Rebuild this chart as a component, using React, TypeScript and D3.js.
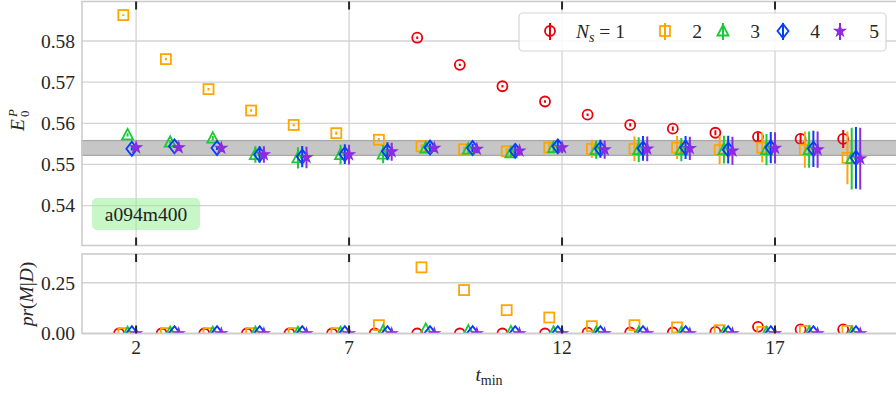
import React from "react";
import * as d3 from "d3";

// ---- data ----
const tmin = [2, 3, 4, 5, 6, 7, 8, 9, 10, 11, 12, 13, 14, 15, 16, 17, 18, 19];
const xTicks = [2, 7, 12, 17];
const yTicksTop = [0.54, 0.55, 0.56, 0.57, 0.58];
const yTicksBot = [0.0, 0.25];
const nsLabels = ["1", "2", "3", "4", "5"];

const e1 = [null, null, null, null, null, null, 0.5909, 0.5808, 0.5742, 0.569, 0.5653, 0.5621, 0.5596, 0.5587, 0.5577, 0.5567, 0.5562, 0.5562];
const e1err = [0, 0, 0, 0, 0, 0, 0.0003, 0.0003, 0.0003, 0.0003, 0.0003, 0.0003, 0.0004, 0.0005, 0.0006, 0.001, 0.0013, 0.0022];
const e2 = [0.5863, 0.5756, 0.5683, 0.5631, 0.5596, 0.5576, 0.556, 0.5544, 0.5537, 0.5532, 0.5541, 0.5538, 0.5538, 0.5541, 0.5535, 0.5541, 0.5536, 0.5516];
const e2err = [0.0002, 0.0003, 0.0003, 0.0003, 0.0003, 0.0004, 0.0004, 0.0005, 0.0006, 0.0008, 0.0015, 0.0022, 0.003, 0.0028, 0.0034, 0.0036, 0.0044, 0.0064];
const e3 = [0.5572, 0.5554, 0.5564, 0.5524, 0.5516, 0.5524, 0.5525, 0.554, 0.5537, 0.5528, 0.5541, 0.5536, 0.5536, 0.5536, 0.5536, 0.5536, 0.5536, 0.5514];
const e4 = [0.5538, 0.5544, 0.554, 0.5524, 0.5519, 0.5525, 0.5532, 0.5541, 0.554, 0.5533, 0.5544, 0.5538, 0.5539, 0.5541, 0.5536, 0.5541, 0.5538, 0.5516];
const e5 = [0.5541, 0.5541, 0.554, 0.5524, 0.5517, 0.5524, 0.5531, 0.554, 0.5537, 0.5533, 0.5541, 0.5536, 0.5538, 0.5539, 0.5533, 0.554, 0.5536, 0.5514];
const e345err = [0.0004, 0.0004, 0.0005, 0.002, 0.0026, 0.0024, 0.0022, 0.001, 0.001, 0.0012, 0.0014, 0.0022, 0.003, 0.0028, 0.0034, 0.0038, 0.0044, 0.0075];

const pr1 = [0, 0, 0, 0, 0, 0, 0, 0, 0, 0, 0, 0.004, 0.005, 0.005, 0.008, 0.033, 0.02, 0.02];
const pr2 = [0.002, 0.002, 0.002, 0.002, 0.002, 0.002, 0.041, 0.326, 0.214, 0.115, 0.079, 0.036, 0.041, 0.03, 0.016, 0.008, 0.013, 0.013];
const pr3 = [0.004, 0.004, 0.004, 0.004, 0.004, 0.004, 0.012, 0.02, 0.012, 0.008, 0.006, 0.004, 0.004, 0.004, 0.004, 0.004, 0.004, 0.004];
const pr4 = [0.002, 0.002, 0.002, 0.002, 0.002, 0.002, 0.002, 0.002, 0.002, 0.002, 0.002, 0.002, 0.002, 0.002, 0.002, 0.002, 0.002, 0.002];
const pr5 = [0, 0, 0, 0, 0, 0, 0, 0, 0, 0, 0, 0, 0, 0, 0, 0, 0, 0];

const bandCenter = 0.554;
const bandHalf = 0.0018;
const ensembleLabel = "a094m400";

const COLORS = ["#e8000b", "#ffa500", "#1ac938", "#023eff", "#8b2be2"];
const SHAPES = ["circle", "square", "triangle", "diamond", "star"];
const OFFSETS = [-0.4, -0.3, -0.2, -0.1, 0];

const series = [
  { v: e1, err: e1err, pr: pr1 },
  { v: e2, err: e2err, pr: pr2 },
  { v: e3, err: e345err, pr: pr3 },
  { v: e4, err: e345err, pr: pr4 },
  { v: e5, err: e345err, pr: pr5 },
];

// ---- layout ----
const W = 896, H = 394;
const L = 82, R = 897;
const topT = 1.5, topB = 245.5;
const botT = 254, botB = 333.5;
const FONT = "'Liberation Serif', 'Times New Roman', serif";
const FS = 19.5;

const x = d3.scaleLinear().domain([0.73, 19.84]).range([82, 896]);
const yTop = d3.scaleLinear().domain([0.5303, 0.5896]).range([topB, topT]);
const yBot = d3.scaleLinear().domain([0, 0.3917]).range([botB, botT]);

const starPath = d3.symbol().type(d3.symbolStar).size(36)() as string;

function Marker({ shape, cx, cy, color }: { shape: string; cx: number; cy: number; color: string }) {
  const sw = 1.8;
  if (shape === "circle")
    return <circle cx={cx} cy={cy} r={5} fill="none" stroke={color} strokeWidth={sw} />;
  if (shape === "square")
    return <rect x={cx - 5} y={cy - 5} width={10} height={10} fill="none" stroke={color} strokeWidth={sw} />;
  if (shape === "triangle")
    return (
      <path d={`M${cx},${cy - 6}L${cx + 5.5},${cy + 4.5}L${cx - 5.5},${cy + 4.5}Z`} fill="none" stroke={color} strokeWidth={sw} />
    );
  if (shape === "diamond")
    return (
      <path d={`M${cx},${cy - 7}L${cx + 5.5},${cy}L${cx},${cy + 7}L${cx - 5.5},${cy}Z`} fill="none" stroke={color} strokeWidth={sw} />
    );
  return <path d={starPath} transform={`translate(${cx},${cy})`} fill={color} stroke={color} strokeWidth={1.2} />;
}

export default function App() {
  const tickLen = 8;
  return (
    <svg width={W} height={H} style={{ position: "absolute", left: 0, top: 0, background: "#fff" }} fontFamily={FONT}>
      <defs>
        <clipPath id="clipTop">
          <rect x={L} y={topT} width={R - L} height={topB - topT} />
        </clipPath>
        <clipPath id="clipBot">
          <rect x={L} y={botT} width={R - L} height={botB - botT} />
        </clipPath>
      </defs>

      {/* ---------- TOP PANEL ---------- */}
      {yTicksTop.map((t) => (
        <line key={"gy" + t} x1={L} x2={R} y1={yTop(t)} y2={yTop(t)} stroke="#d3d3d3" strokeWidth={1.3} />
      ))}
      {xTicks.map((t) => (
        <line key={"gx" + t} x1={x(t)} x2={x(t)} y1={topT} y2={topB} stroke="#d3d3d3" strokeWidth={1.3} />
      ))}
      <rect
        x={L}
        y={yTop(bandCenter + bandHalf)}
        width={R - L}
        height={yTop(bandCenter - bandHalf) - yTop(bandCenter + bandHalf)}
        fill="#c6c6c6"
        stroke="#a8a8a8"
        strokeWidth={1.3}
      />
      <g clipPath="url(#clipTop)">
        {series.map((s, i) =>
          tmin.map((t, j) => {
            const v = s.v[j];
            if (v === null) return null;
            const cx = x(t + OFFSETS[i]);
            return (
              <g key={`e${i}-${j}`}>
                <line x1={cx} x2={cx} y1={yTop(v - s.err[j])} y2={yTop(v + s.err[j])} stroke={COLORS[i]} strokeWidth={2} />
                <Marker shape={SHAPES[i]} cx={cx} cy={yTop(v)} color={COLORS[i]} />
              </g>
            );
          })
        )}
      </g>
      {/* annotation box */}
      <rect x={92} y={198} width={108} height={32} rx={5} fill="#90ee90" fillOpacity={0.5} />
      <text x={146} y={221} textAnchor="middle" fontSize={FS} fill="#222">
        {ensembleLabel}
      </text>
      {/* frame */}
      <rect x={L} y={topT} width={R - L} height={topB - topT} fill="none" stroke="#cccccc" strokeWidth={1.6} />
      {xTicks.map((t) => (
        <g key={"tk" + t}>
          <line x1={x(t)} x2={x(t)} y1={topT} y2={topT + tickLen} stroke="#262626" strokeWidth={2} />
          <line x1={x(t)} x2={x(t)} y1={topB - tickLen} y2={topB} stroke="#262626" strokeWidth={2} />
        </g>
      ))}
      {yTicksTop.map((t) => (
        <text key={"ly" + t} x={75} y={yTop(t)} dy="0.35em" textAnchor="end" fontSize={FS} fill="#262626">
          {d3.format(".2f")(t)}
        </text>
      ))}
      <g transform="translate(18,118) rotate(-90)">
        <text x={-1} y={6} fontSize={FS} fontStyle="italic" fill="#262626" textAnchor="end">E</text>
        <text x={1} y={-1} fontSize={13} fontStyle="italic" fill="#262626">P</text>
        <text x={1} y={11} fontSize={13} fill="#262626">0</text>
      </g>

      {/* legend */}
      <rect x={519} y={13} width={367} height={38} rx={4} fill="#ffffff" fillOpacity={0.85} stroke="#d6d6d6" strokeWidth={1.2} />
      {[550, 665, 723, 783, 840].map((lx, i) => (
        <g key={"lg" + i}>
          <line x1={lx} x2={lx} y1={23} y2={40} stroke={COLORS[i]} strokeWidth={2} />
          <Marker shape={SHAPES[i]} cx={lx} cy={31} color={COLORS[i]} />
        </g>
      ))}
      <text x={576} y={38} fontSize={FS} fill="#262626">
        <tspan fontStyle="italic">N</tspan>
        <tspan fontSize={14} fontStyle="italic" dy={4}>s</tspan>
        <tspan dy={-4}>{" = " + nsLabels[0]}</tspan>
      </text>
      {[697, 755, 815, 874].map((lx, i) => (
        <text key={"lt" + i} x={lx} y={38} fontSize={FS} textAnchor="middle" fill="#262626">
          {nsLabels[i + 1]}
        </text>
      ))}

      {/* ---------- BOTTOM PANEL ---------- */}
      {yTicksBot.map((t) => (
        <line key={"gby" + t} x1={L} x2={R} y1={yBot(t)} y2={yBot(t)} stroke="#d3d3d3" strokeWidth={1.3} />
      ))}
      {xTicks.map((t) => (
        <line key={"gbx" + t} x1={x(t)} x2={x(t)} y1={botT} y2={botB} stroke="#d3d3d3" strokeWidth={1.3} />
      ))}
      <g clipPath="url(#clipBot)">
        {series.map((s, i) =>
          tmin.map((t, j) => (
            <Marker key={`p${i}-${j}`} shape={SHAPES[i]} cx={x(t + OFFSETS[i])} cy={yBot(s.pr[j])} color={COLORS[i]} />
          ))
        )}
      </g>
      <rect x={L} y={botT} width={R - L} height={botB - botT} fill="none" stroke="#cccccc" strokeWidth={1.6} />
      {xTicks.map((t) => (
        <g key={"btk" + t}>
          <line x1={x(t)} x2={x(t)} y1={botT} y2={botT + tickLen} stroke="#262626" strokeWidth={2} />
          <line x1={x(t)} x2={x(t)} y1={botB - tickLen} y2={botB} stroke="#262626" strokeWidth={2} />
          <text x={x(t)} y={354} textAnchor="middle" fontSize={FS} fill="#262626">
            {t}
          </text>
        </g>
      ))}
      {yTicksBot.map((t) => (
        <text key={"lby" + t} x={75} y={yBot(t)} dy="0.35em" textAnchor="end" fontSize={FS} fill="#262626">
          {d3.format(".2f")(t)}
        </text>
      ))}
      <g transform="translate(26,294) rotate(-90)">
        <text x={0} y={0} dy="0.35em" textAnchor="middle" fontSize={FS} fill="#262626">
          <tspan fontStyle="italic">pr</tspan>
          <tspan>(</tspan>
          <tspan fontStyle="italic">M</tspan>
          <tspan>|</tspan>
          <tspan fontStyle="italic">D</tspan>
          <tspan>)</tspan>
        </text>
      </g>
      <text x={489} y={381} textAnchor="middle" fontSize={FS} fill="#262626">
        <tspan fontStyle="italic">t</tspan>
        <tspan fontSize={14} dy={4}>min</tspan>
      </text>
    </svg>
  );
}
